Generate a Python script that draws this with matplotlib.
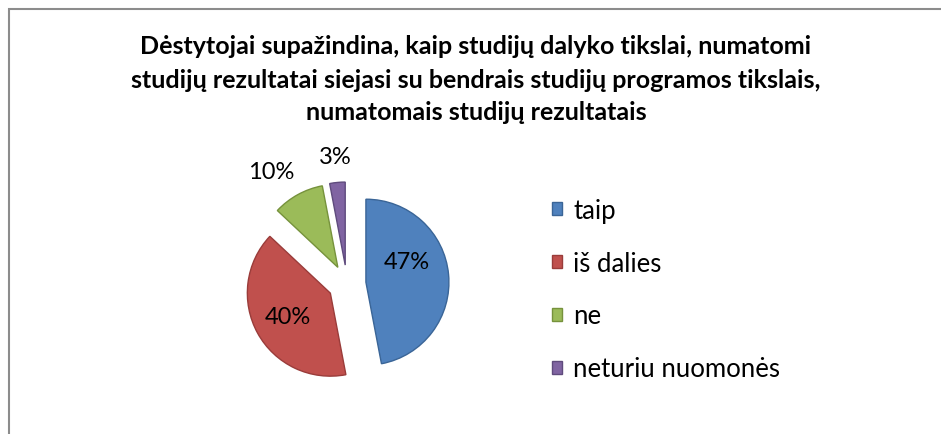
import matplotlib.pyplot as plt
from matplotlib.patches import Rectangle
import numpy as np

# Apklausos duomenys
labels = ['taip', 'iš dalies', 'ne', 'neturiu nuomonės']
values = [47, 40, 10, 3]
colors = ['#4F81BD', '#C0504D', '#9BBB59', '#8064A2']
edges = ['#3A6597', '#9A3C3A', '#76923C', '#5F4B7D']
title_lines = ['Dėstytojai supažindina, kaip studijų dalyko tikslai, numatomi',
               'studijų rezultatai siejasi su bendrais studijų programos tikslais,',
               'numatomais studijų rezultatais']

plt.rcParams['font.family'] = ['Lato', 'DejaVu Sans']

W, H = 941, 435
fig = plt.figure(figsize=(W / 100, H / 100), dpi=100)
ax = fig.add_axes([0, 0, 1, 1])

# ašių vienetai = pikseliai
cx, cy, R = 347, H - 285, 83
explode = [19, 19, 19, 19]

wedges, _ = ax.pie(values, colors=colors, startangle=90, counterclock=False,
                   radius=R, center=(cx, cy), explode=explode,
                   wedgeprops=dict(linewidth=1.0))
for w, ec in zip(wedges, edges):
    w.set_edgecolor(ec)

# procentų žymės: atstumas (spinduliais) ir kampo pataisa
dist = [0.55, 0.58, 1.40, 1.32]
turn = [22, 0, 6, 0]
total = sum(values)
for w, v, d, t in zip(wedges, values, dist, turn):
    ang = np.deg2rad((w.theta1 + w.theta2) / 2 + t)
    x0, y0 = w.center
    ax.text(x0 + d * R * np.cos(ang), y0 + d * R * np.sin(ang),
            f'{v / total * 100:.0f}%', ha='center', va='center', fontsize=17)

ax.set_xlim(0, W)
ax.set_ylim(0, H)
ax.set_aspect('equal')
ax.axis('off')

# rėmelis
ax.add_patch(Rectangle((8.5, -20), W + 40, H - 9.5 + 20, fill=False,
                       edgecolor='#8C8C8C', linewidth=1.5))

for i, line in enumerate(title_lines):
    fig.text(476 / W, 1 - (47 + 33 * i) / H, line, ha='center', va='center',
             fontsize=18, fontweight='bold')

ax.legend(wedges, labels, loc='upper left', bbox_to_anchor=(552 / W, 1 - 199 / H),
          frameon=False, fontsize=18.5, handlelength=0.4, handleheight=0.4,
          handletextpad=0.43, labelspacing=1.08, borderpad=0, borderaxespad=0)

fig.savefig('out.png', dpi=100)
